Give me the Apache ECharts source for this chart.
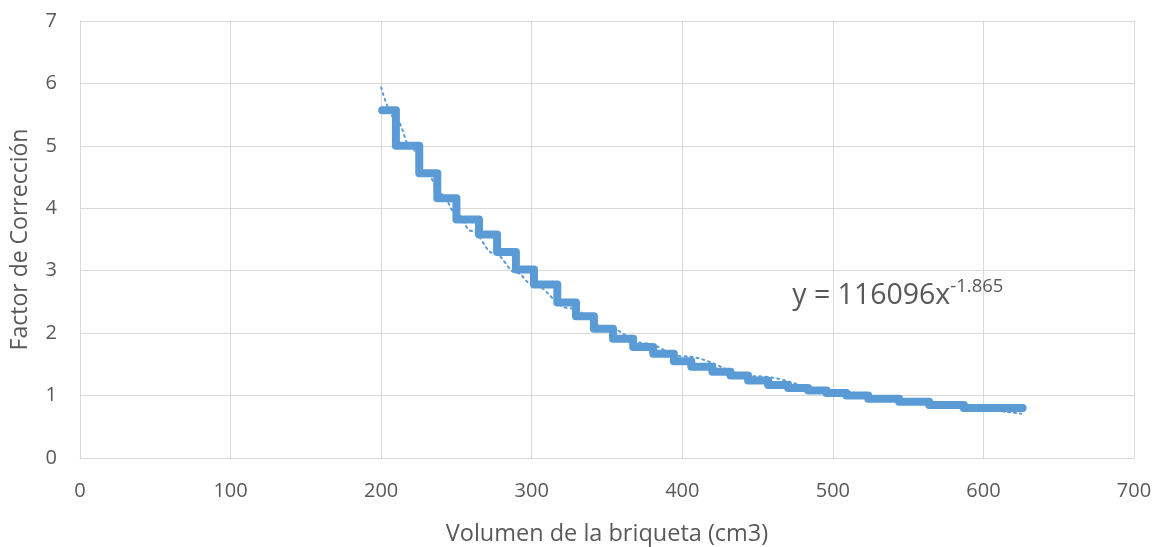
<!DOCTYPE html>
<html>
<head>
<meta charset="utf-8">
<script src="https://cdn.jsdelivr.net/npm/echarts@6/dist/echarts.min.js"></script>
<style>
html,body{margin:0;padding:0;background:#fff;}
#chart{width:1162px;height:547px;}
</style>
</head>
<body>
<div id="chart"></div>
<script>
// Step data (start of each level, volume in cm3) and correction factor
const volumen = [200.7, 209.8, 225.3, 237.3, 250, 265, 277, 289.5, 301.5, 317, 329.4, 341.3, 354, 367.4, 380.7, 394.4, 406, 420, 432, 443.7, 457, 470.3, 483.6, 495.8, 509, 523.5, 544, 564, 587, 626];
const factor  = [5.57, 5.00, 4.56, 4.16, 3.82, 3.58, 3.30, 3.02, 2.78, 2.49, 2.27, 2.07, 1.91, 1.78, 1.67, 1.55, 1.46, 1.38, 1.32, 1.24, 1.17, 1.12, 1.08, 1.04, 1.00, 0.95, 0.90, 0.85, 0.80, 0.80];

// Trendline (potential fit) values
const trendX = [200, 210, 220, 230, 240, 250, 260, 275, 290, 300, 325, 350, 375, 400, 450, 500, 550, 600, 625];
const trendY = [5.935, 5.419, 4.969, 4.573, 4.224, 3.915, 3.638, 3.277, 2.968, 2.786, 2.400, 2.090, 1.838, 1.629, 1.308, 1.075, 0.900, 0.765, 0.709];

const xTicks = [0, 100, 200, 300, 400, 500, 600, 700];
const yTicks = [0, 1, 2, 3, 4, 5, 6, 7];

const equationMain = 'y = 116096x';
const equationExp = '-1.865';
const equationAt = [473, 2.63];

const xTitle = 'Volumen de la briqueta (cm3)';
const yTitle = 'Factor de Corrección';

const FONT = '"Open Sans", sans-serif';
const TXT = '#595959';
const BLUE = '#5B9BD5';

const chart = echarts.init(document.getElementById('chart'), null, {renderer: 'canvas'});

chart.setOption({
  animation: false,
  backgroundColor: '#fff',
  grid: {left: 80, right: 28, top: 21, bottom: 89, containLabel: false, outerBoundsMode: 'none'},
  xAxis: {
    type: 'value',
    min: xTicks[0], max: xTicks[xTicks.length - 1], interval: 100,
    name: xTitle, nameLocation: 'middle', nameGap: 64,
    nameTextStyle: {fontFamily: FONT, fontSize: 23.5, color: TXT},
    axisLine: {show: true, lineStyle: {color: '#D9D9D9', width: 1}},
    axisTick: {show: false},
    axisLabel: {fontFamily: FONT, fontSize: 20, color: TXT, margin: 23},
    splitLine: {show: true, lineStyle: {color: '#D9D9D9', width: 1}}
  },
  yAxis: {
    type: 'value',
    min: yTicks[0], max: yTicks[yTicks.length - 1], interval: 1,
    name: yTitle, nameLocation: 'middle', nameGap: 48, nameRotate: 90,
    nameTextStyle: {fontFamily: FONT, fontSize: 23, color: TXT},
    axisLine: {show: true, lineStyle: {color: '#D9D9D9', width: 1}},
    axisTick: {show: false},
    axisLabel: {fontFamily: FONT, fontSize: 20, color: TXT, margin: 23},
    splitLine: {show: true, lineStyle: {color: '#D9D9D9', width: 1}}
  },
  series: [
    {
      name: 'trend',
      type: 'line',
      data: trendX.map((x, i) => [x, trendY[i]]),
      showSymbol: false,
      smooth: 0.4,
      smoothMonotone: 'x',
      lineStyle: {color: BLUE, width: 2, type: [2, 4], cap: 'round'},
      z: 2,
      markPoint: {
        symbol: 'circle', symbolSize: 0,
        data: [{
          coord: equationAt,
          label: {
            show: true, position: 'inside', align: 'left', verticalAlign: 'middle',
            formatter: '{a|' + equationMain + '}{b|' + equationExp + '}',
            rich: {
              a: {fontFamily: FONT, fontSize: 28.5, color: TXT, lineHeight: 34, verticalAlign: 'bottom'},
              b: {fontFamily: FONT, fontSize: 18.5, color: TXT, lineHeight: 34, verticalAlign: 'top', padding: [0, 0, 12, 0]}
            }
          }
        }]
      }
    },
    {
      name: 'factor',
      type: 'line',
      step: 'end',
      data: volumen.map((x, i) => [x, factor[i]]),
      showSymbol: false,
      lineStyle: {color: BLUE, width: 8, cap: 'round', join: 'round'},
      z: 3
    }
  ]
});
</script>
</body>
</html>
